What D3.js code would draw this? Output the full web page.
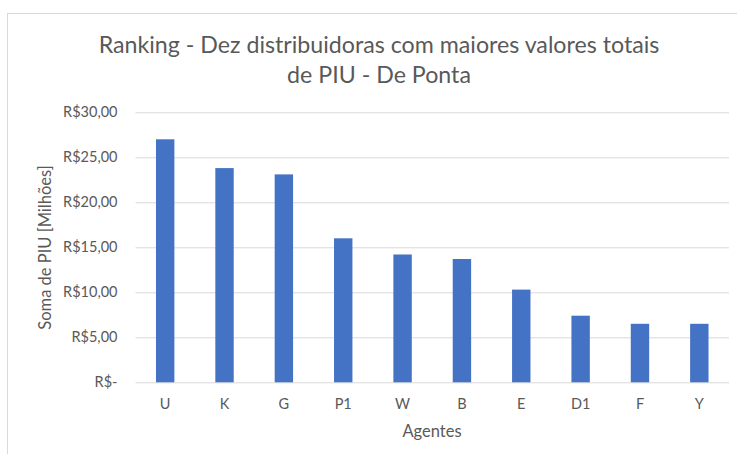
<!DOCTYPE html>
<html>
<head>
<meta charset="utf-8">
<script src="https://cdn.jsdelivr.net/npm/d3@7"></script>
<style>
  body { margin: 0; background: #fff; }
  text { font-family: Lato, "Open Sans", sans-serif; fill: #595959; }
</style>
</head>
<body>
<div id="chart"></div>
<script>
var agentes = ["U", "K", "G", "P1", "W", "B", "E", "D1", "F", "Y"];
var valores = [27.0, 23.8, 23.1, 16.0, 14.2, 13.7, 10.3, 7.4, 6.5, 6.5];
var yTicks = [0, 5, 10, 15, 20, 25, 30];
var titulo = ["Ranking - Dez distribuidoras com maiores valores totais", "de PIU - De Ponta"];

var width = 737, height = 454;
var margin = {top: 112.3, right: 8, bottom: 71.7, left: 135.5};

var svg = d3.select("#chart").append("svg")
    .attr("width", width)
    .attr("height", height);

// chart border
svg.append("rect")
    .attr("x", 7.5).attr("y", 13.5)
    .attr("width", 740).attr("height", 450)
    .attr("fill", "none")
    .attr("stroke", "#d9d9d9");

var x = d3.scaleBand()
    .domain(agentes)
    .range([margin.left, width - margin.right])
    .paddingInner(0.69)
    .paddingOuter(0.345);

var y = d3.scaleLinear()
    .domain([0, 30])
    .range([height - margin.bottom, margin.top]);

// gridlines + y labels
var yAxis = svg.append("g")
    .attr("transform", "translate(" + margin.left + ",0)")
    .call(d3.axisLeft(y).tickValues(yTicks)
        .tickSize(-(width - margin.right - margin.left))
        .tickPadding(18)
        .tickFormat(function(d) { return d === 0 ? "R$-" : "R$" + d + ",00"; }));
yAxis.select(".domain").remove();
yAxis.selectAll("line").attr("stroke", "#d9d9d9");
yAxis.selectAll("text").attr("font-size", "14.5px").attr("fill", "#595959");

svg.selectAll(".bar")
    .data(valores)
    .enter().append("rect")
    .attr("class", "bar")
    .attr("x", function(d, i) { return x(agentes[i]); })
    .attr("y", function(d) { return y(d); })
    .attr("width", x.bandwidth())
    .attr("height", function(d) { return y(0) - y(d); })
    .attr("fill", "#4472c4");

var xAxis = svg.append("g")
    .attr("transform", "translate(0," + y(0) + ")")
    .call(d3.axisBottom(x).tickSize(0).tickPadding(16));
xAxis.select(".domain").remove();
xAxis.selectAll("text").attr("font-size", "14.5px").attr("fill", "#595959");

// title
svg.selectAll(".title")
    .data(titulo)
    .enter().append("text")
    .attr("class", "title")
    .attr("x", 379)
    .attr("y", function(d, i) { return 52.5 + i * 30; })
    .attr("text-anchor", "middle")
    .attr("font-size", "23.2px")
    .text(function(d) { return d; });

svg.append("text")
    .attr("x", 432)
    .attr("y", 437)
    .attr("text-anchor", "middle")
    .attr("font-size", "16.5px")
    .text("Agentes");

svg.append("text")
    .attr("transform", "translate(51,247.5) rotate(-90)")
    .attr("text-anchor", "middle")
    .attr("font-size", "16.5px")
    .text("Soma de PIU [Milhões]");
</script>
</body>
</html>
